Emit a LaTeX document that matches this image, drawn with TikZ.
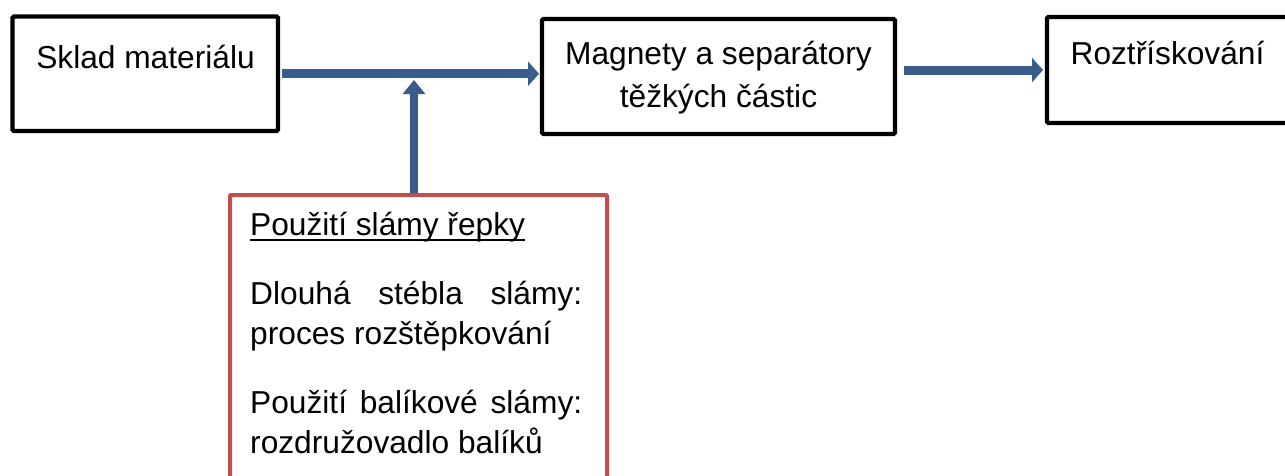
\documentclass[tikz,border=0pt]{standalone}
\usepackage{fontspec}
\setmainfont{Liberation Sans}
\usetikzlibrary{arrows.meta}
\definecolor{arrowblue}{RGB}{56,93,138}
\definecolor{boxred}{RGB}{192,80,77}
\newcommand\myul[1]{\leavevmode\setbox0\hbox{#1}\rlap{\rule[-5.5pt]{\wd0}{2pt}}\box0}
\begin{document}
\begin{tikzpicture}[x=1pt,y=-1pt,
  blackbox/.style={draw=black, line width=4.3pt, rounded corners=1.5pt, inner sep=0pt, outer sep=0pt, anchor=north west},
  redbox/.style={draw=boxred, line width=4pt, rounded corners=1pt, inner sep=0pt, outer sep=0pt, anchor=north west},
  boxtext/.style={inner sep=0pt, anchor=base, font=\fontsize{31.7}{43}\selectfont},
  flow/.style={draw=arrowblue, line width=9pt, -{Triangle[length=11pt,width=24pt]}},
  flowup/.style={draw=arrowblue, line width=8pt, -{Triangle[length=14pt,width=22pt]}},
]
\useasboundingbox (0,0) rectangle (1285,475);
\node[blackbox, minimum width=265.5pt, minimum height=114.5pt] (b1) at (12.5,16.5) {};
\node[blackbox, minimum width=353pt, minimum height=115pt] (b2) at (542,19) {};
\node[blackbox, minimum width=243pt, minimum height=106pt] (b3) at (1047,17) {};
\node[redbox, minimum width=377pt, minimum height=300pt] (red) at (230,195) {};

\node[boxtext] (t1) at (145.5,68) {Sklad materiálu};
\node[boxtext] (t2) at (718.5,64) {\parbox[t]{350pt}{\centering Magnety a separátory\\ těžkých částic}};
\node[boxtext] (t3) at (1167.5,64) {Roztřískování};
\node[boxtext, anchor=base west] (t4) at (250,235) {\parbox[t]{332pt}{\fontsize{31.7}{39.5}\selectfont\parskip=30pt\parindent=0pt
\myul{Použití slámy řepky}\par
Dlouhá stébla slámy:\linebreak proces rozštěpkování\par
Použití balíkové slámy:\linebreak rozdružovadlo balíků}};

\coordinate (tip) at (414,80);
\draw[flow, shorten <=4pt, shorten >=3pt] (b1.east) -- (b1.east -| b2.west);
\draw[flow, shorten <=9pt, shorten >=4pt] (b2.east |- b3.west) -- (b3.west);
\draw[flowup, shorten <=2pt] (red.north -| tip) -- (tip);
\end{tikzpicture}
\end{document}
